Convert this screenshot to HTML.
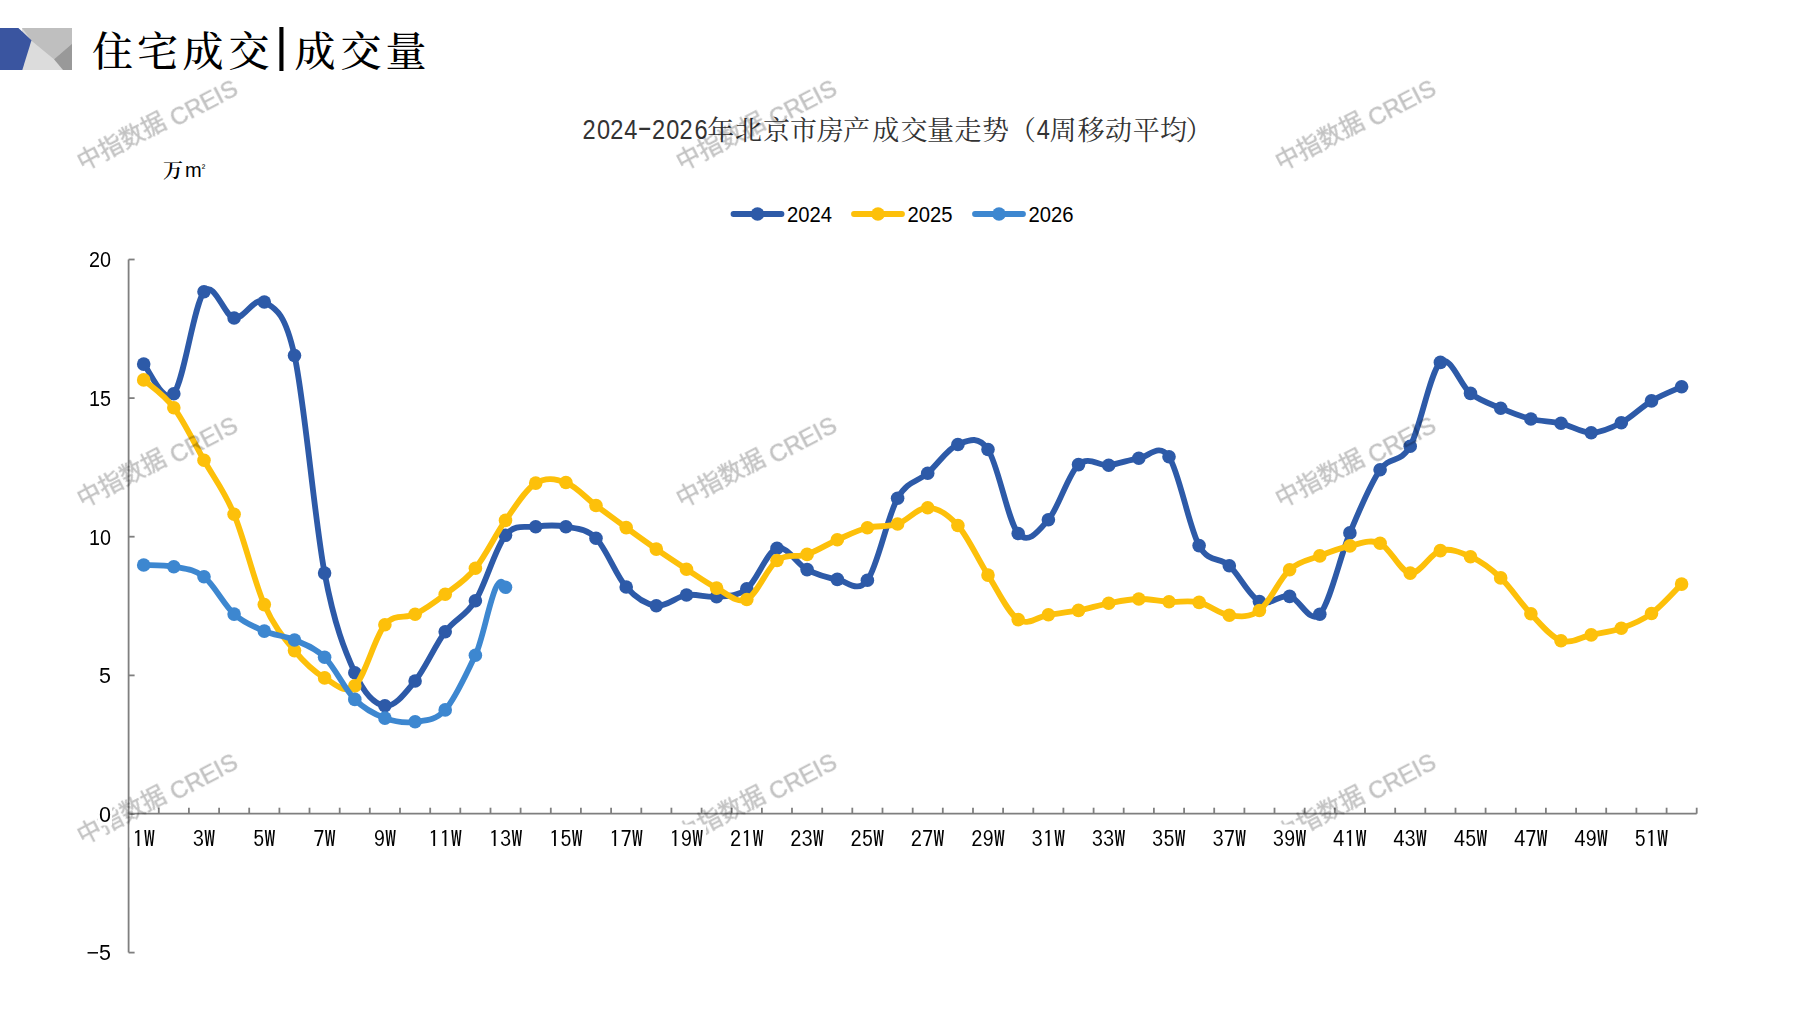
<!DOCTYPE html>
<html><head><meta charset="utf-8"><style>
html,body{margin:0;padding:0;background:#fff;}
body{width:1797px;height:1010px;overflow:hidden;position:relative;}
svg{position:absolute;left:0;top:0;}
.yl{font-family:"Liberation Sans","Noto Sans CJK SC",sans-serif;font-size:21.5px;fill:#000;}
.xl{font-family:"IPAGothic","Liberation Sans",sans-serif;font-size:22.5px;fill:#000;}
.lg{font-family:"Liberation Sans","Noto Sans CJK SC",sans-serif;font-size:21.8px;fill:#000;}
.ctd{font-family:"Liberation Sans","Noto Sans CJK SC",sans-serif;font-size:26.8px;fill:#333;}
.ctc{font-family:"Noto Serif CJK SC",serif;font-size:27px;fill:#333;}
.tt{font-family:"Noto Serif CJK SC",serif;font-size:41px;fill:#000;font-weight:500;}
.un{font-family:"Noto Serif CJK SC",serif;font-size:20px;fill:#000;font-weight:600;}
.unm{font-family:"Liberation Sans",sans-serif;font-size:20px;fill:#000;}
.wm{font-family:"Liberation Sans","Noto Sans CJK SC",sans-serif;font-size:23.7px;fill:#000;stroke:#000;stroke-width:0.5px;}
.wmg{opacity:0.24;}
.wmc{font-size:24px;}
</style></head><body>
<svg width="1797" height="1010" viewBox="0 0 1797 1010">
<polygon points="22,28 72,28 72,70 22,70" fill="#dcdcdc"/>
<polygon points="22,28 72,28 72,43.8 54,59.2 31.5,40.8" fill="#bfbfbf"/>
<polygon points="72,43.8 54,59.2 63,70 72,70" fill="#999999"/>
<polygon points="0,28 18.4,28 31.5,40.2 22.3,70 0,70" fill="#3a55a0"/>
<text x="92.0 137.0 182.5 228.5" y="65.5" class="tt">住宅成交</text>
<text transform="translate(274.73,61.46) scale(1.1,1)" style="font-family:'Liberation Sans',sans-serif;font-size:46.7px;fill:#000">|</text>
<text x="294.5 340.5 385.5" y="65.5" class="tt">成交量</text>
<text class="ctd" transform="translate(0,138.8) scale(0.88,1)" x="662.07 678.39 693.55 709.27" y="0">2024</text>
<text class="ctd" transform="translate(637.24,136.4) scale(1.66,1)" x="0" y="0">-</text>
<text class="ctd" transform="translate(0,138.8) scale(0.88,1)" x="740.93 757.14 772.30 789.09" y="0">2026</text>
<text x="707.2 735.0 763.0 790.0 816.8 843.1 872.3 900.4 927.0 954.5 982.0 1009.0" y="139.5" class="ctc">年北京市房产成交量走势（</text>
<text class="ctd" transform="translate(0,138.8) scale(0.88,1)" x="1178.13" y="0">4</text>
<text x="1049.4 1077.5 1105.1 1132.7 1160.0 1185.5" y="139.5" class="ctc">周移动平均）</text>
<text x="163" y="178" class="un">万</text><text class="unm"><tspan x="185" y="177">m</tspan><tspan x="201.8" y="172.3" style="font-size:10.5px">²</tspan></text>
<line x1="733.5" y1="214" x2="781.5" y2="214" stroke="#2D5AA8" stroke-width="5.8" stroke-linecap="round"/>
<circle cx="757.5" cy="214" r="6.8" fill="#2D5AA8"/>
<text x="787.1" y="221.7" class="lg" textLength="45" lengthAdjust="spacingAndGlyphs">2024</text>
<line x1="854.0" y1="214" x2="902.0" y2="214" stroke="#FDC00A" stroke-width="5.8" stroke-linecap="round"/>
<circle cx="878.0" cy="214" r="6.8" fill="#FDC00A"/>
<text x="907.6" y="221.7" class="lg" textLength="45" lengthAdjust="spacingAndGlyphs">2025</text>
<line x1="975.0" y1="214" x2="1023.0" y2="214" stroke="#3D87D0" stroke-width="5.8" stroke-linecap="round"/>
<circle cx="999.0" cy="214" r="6.8" fill="#3D87D0"/>
<text x="1028.6" y="221.7" class="lg" textLength="45" lengthAdjust="spacingAndGlyphs">2026</text>
<g stroke="#7f7f7f" stroke-width="1.8" fill="none">
<line x1="128.6" y1="259.5" x2="128.6" y2="952.6"/>
<line x1="128.6" y1="813.7" x2="1696.7" y2="813.7"/>
<line x1="128.6" y1="259.5" x2="134.6" y2="259.5"/>
<line x1="128.6" y1="398.1" x2="134.6" y2="398.1"/>
<line x1="128.6" y1="536.7" x2="134.6" y2="536.7"/>
<line x1="128.6" y1="675.4" x2="134.6" y2="675.4"/>
<line x1="128.6" y1="814.0" x2="134.6" y2="814.0"/>
<line x1="128.6" y1="952.6" x2="134.6" y2="952.6"/>
<line x1="158.8" y1="813.7" x2="158.8" y2="807.7"/>
<line x1="188.9" y1="813.7" x2="188.9" y2="807.7"/>
<line x1="219.1" y1="813.7" x2="219.1" y2="807.7"/>
<line x1="249.2" y1="813.7" x2="249.2" y2="807.7"/>
<line x1="279.4" y1="813.7" x2="279.4" y2="807.7"/>
<line x1="309.5" y1="813.7" x2="309.5" y2="807.7"/>
<line x1="339.7" y1="813.7" x2="339.7" y2="807.7"/>
<line x1="369.8" y1="813.7" x2="369.8" y2="807.7"/>
<line x1="400.0" y1="813.7" x2="400.0" y2="807.7"/>
<line x1="430.2" y1="813.7" x2="430.2" y2="807.7"/>
<line x1="460.3" y1="813.7" x2="460.3" y2="807.7"/>
<line x1="490.5" y1="813.7" x2="490.5" y2="807.7"/>
<line x1="520.6" y1="813.7" x2="520.6" y2="807.7"/>
<line x1="550.8" y1="813.7" x2="550.8" y2="807.7"/>
<line x1="580.9" y1="813.7" x2="580.9" y2="807.7"/>
<line x1="611.1" y1="813.7" x2="611.1" y2="807.7"/>
<line x1="641.3" y1="813.7" x2="641.3" y2="807.7"/>
<line x1="671.4" y1="813.7" x2="671.4" y2="807.7"/>
<line x1="701.6" y1="813.7" x2="701.6" y2="807.7"/>
<line x1="731.7" y1="813.7" x2="731.7" y2="807.7"/>
<line x1="761.9" y1="813.7" x2="761.9" y2="807.7"/>
<line x1="792.0" y1="813.7" x2="792.0" y2="807.7"/>
<line x1="822.2" y1="813.7" x2="822.2" y2="807.7"/>
<line x1="852.3" y1="813.7" x2="852.3" y2="807.7"/>
<line x1="882.5" y1="813.7" x2="882.5" y2="807.7"/>
<line x1="912.7" y1="813.7" x2="912.7" y2="807.7"/>
<line x1="942.8" y1="813.7" x2="942.8" y2="807.7"/>
<line x1="973.0" y1="813.7" x2="973.0" y2="807.7"/>
<line x1="1003.1" y1="813.7" x2="1003.1" y2="807.7"/>
<line x1="1033.3" y1="813.7" x2="1033.3" y2="807.7"/>
<line x1="1063.4" y1="813.7" x2="1063.4" y2="807.7"/>
<line x1="1093.6" y1="813.7" x2="1093.6" y2="807.7"/>
<line x1="1123.7" y1="813.7" x2="1123.7" y2="807.7"/>
<line x1="1153.9" y1="813.7" x2="1153.9" y2="807.7"/>
<line x1="1184.1" y1="813.7" x2="1184.1" y2="807.7"/>
<line x1="1214.2" y1="813.7" x2="1214.2" y2="807.7"/>
<line x1="1244.4" y1="813.7" x2="1244.4" y2="807.7"/>
<line x1="1274.5" y1="813.7" x2="1274.5" y2="807.7"/>
<line x1="1304.7" y1="813.7" x2="1304.7" y2="807.7"/>
<line x1="1334.8" y1="813.7" x2="1334.8" y2="807.7"/>
<line x1="1365.0" y1="813.7" x2="1365.0" y2="807.7"/>
<line x1="1395.2" y1="813.7" x2="1395.2" y2="807.7"/>
<line x1="1425.3" y1="813.7" x2="1425.3" y2="807.7"/>
<line x1="1455.5" y1="813.7" x2="1455.5" y2="807.7"/>
<line x1="1485.6" y1="813.7" x2="1485.6" y2="807.7"/>
<line x1="1515.8" y1="813.7" x2="1515.8" y2="807.7"/>
<line x1="1545.9" y1="813.7" x2="1545.9" y2="807.7"/>
<line x1="1576.1" y1="813.7" x2="1576.1" y2="807.7"/>
<line x1="1606.2" y1="813.7" x2="1606.2" y2="807.7"/>
<line x1="1636.4" y1="813.7" x2="1636.4" y2="807.7"/>
<line x1="1666.6" y1="813.7" x2="1666.6" y2="807.7"/>
<line x1="1696.7" y1="813.7" x2="1696.7" y2="807.7"/>
</g>
<path d="M143.7,364.1 C148.7,369.0 163.8,405.8 173.8,393.7 C183.9,381.6 193.9,304.3 204.0,291.7 C214.0,279.1 224.1,316.3 234.1,318.0 C244.2,319.7 254.3,295.8 264.3,302.0 C274.4,308.2 284.4,310.3 294.5,355.5 C304.5,400.7 314.6,520.2 324.6,573.1 C334.7,626.0 344.7,650.6 354.8,672.7 C364.8,694.8 374.9,704.3 384.9,705.7 C395.0,707.1 405.0,693.3 415.1,681.0 C425.1,668.7 435.2,645.2 445.2,631.8 C455.3,618.4 465.3,616.9 475.4,600.8 C485.4,584.7 495.5,547.6 505.5,535.3 C515.6,522.9 525.7,528.1 535.7,526.7 C545.8,525.3 555.8,524.8 565.9,526.7 C575.9,528.6 586.0,528.2 596.0,538.2 C606.1,548.2 616.1,575.8 626.2,587.0 C636.2,598.2 646.3,604.4 656.3,605.7 C666.4,607.0 676.4,596.5 686.5,595.0 C696.5,593.5 706.6,597.7 716.6,596.7 C726.7,595.7 736.7,597.0 746.8,588.9 C756.9,580.8 766.9,551.5 777.0,548.3 C787.0,545.1 797.1,564.4 807.1,569.6 C817.2,574.8 827.2,577.6 837.3,579.4 C847.3,581.2 857.4,593.8 867.4,580.3 C877.5,566.8 887.5,516.0 897.6,498.2 C907.6,480.4 917.7,482.1 927.7,473.2 C937.8,464.2 947.8,448.4 957.9,444.5 C967.9,440.6 978.0,434.7 988.0,449.5 C998.1,464.3 1008.1,521.8 1018.2,533.5 C1028.3,545.2 1038.3,531.2 1048.4,519.7 C1058.4,508.2 1068.5,473.7 1078.5,464.6 C1088.6,455.5 1098.6,466.2 1108.7,465.2 C1118.7,464.1 1128.8,459.7 1138.8,458.3 C1148.9,456.9 1158.9,442.2 1169.0,456.8 C1179.0,471.4 1189.1,527.5 1199.1,545.6 C1209.2,563.8 1219.2,556.4 1229.3,565.7 C1239.3,575.0 1249.4,596.4 1259.4,601.5 C1269.5,606.6 1279.6,594.3 1289.6,596.4 C1299.7,598.5 1309.7,624.8 1319.8,614.2 C1329.8,603.6 1339.9,557.0 1349.9,532.9 C1360.0,508.8 1370.0,484.2 1380.1,469.8 C1390.1,455.4 1400.2,464.1 1410.2,446.2 C1420.3,428.3 1430.3,371.2 1440.4,362.4 C1450.4,353.6 1460.5,385.8 1470.5,393.4 C1480.6,401.0 1490.6,403.9 1500.7,408.2 C1510.7,412.5 1520.8,416.5 1530.9,419.0 C1540.9,421.5 1551.0,421.0 1561.0,423.3 C1571.1,425.6 1581.1,432.8 1591.2,432.7 C1601.2,432.6 1611.3,428.0 1621.3,422.7 C1631.4,417.4 1641.4,406.9 1651.5,400.9 C1661.5,394.9 1676.6,389.1 1681.6,386.8" fill="none" stroke="#2D5AA8" stroke-width="5.8" stroke-linejoin="round" stroke-linecap="round"/>
<g fill="#2D5AA8"><circle cx="143.7" cy="364.1" r="6.8"/><circle cx="173.8" cy="393.7" r="6.8"/><circle cx="204.0" cy="291.7" r="6.8"/><circle cx="234.1" cy="318.0" r="6.8"/><circle cx="264.3" cy="302.0" r="6.8"/><circle cx="294.5" cy="355.5" r="6.8"/><circle cx="324.6" cy="573.1" r="6.8"/><circle cx="354.8" cy="672.7" r="6.8"/><circle cx="384.9" cy="705.7" r="6.8"/><circle cx="415.1" cy="681.0" r="6.8"/><circle cx="445.2" cy="631.8" r="6.8"/><circle cx="475.4" cy="600.8" r="6.8"/><circle cx="505.5" cy="535.3" r="6.8"/><circle cx="535.7" cy="526.7" r="6.8"/><circle cx="565.9" cy="526.7" r="6.8"/><circle cx="596.0" cy="538.2" r="6.8"/><circle cx="626.2" cy="587.0" r="6.8"/><circle cx="656.3" cy="605.7" r="6.8"/><circle cx="686.5" cy="595.0" r="6.8"/><circle cx="716.6" cy="596.7" r="6.8"/><circle cx="746.8" cy="588.9" r="6.8"/><circle cx="777.0" cy="548.3" r="6.8"/><circle cx="807.1" cy="569.6" r="6.8"/><circle cx="837.3" cy="579.4" r="6.8"/><circle cx="867.4" cy="580.3" r="6.8"/><circle cx="897.6" cy="498.2" r="6.8"/><circle cx="927.7" cy="473.2" r="6.8"/><circle cx="957.9" cy="444.5" r="6.8"/><circle cx="988.0" cy="449.5" r="6.8"/><circle cx="1018.2" cy="533.5" r="6.8"/><circle cx="1048.4" cy="519.7" r="6.8"/><circle cx="1078.5" cy="464.6" r="6.8"/><circle cx="1108.7" cy="465.2" r="6.8"/><circle cx="1138.8" cy="458.3" r="6.8"/><circle cx="1169.0" cy="456.8" r="6.8"/><circle cx="1199.1" cy="545.6" r="6.8"/><circle cx="1229.3" cy="565.7" r="6.8"/><circle cx="1259.4" cy="601.5" r="6.8"/><circle cx="1289.6" cy="596.4" r="6.8"/><circle cx="1319.8" cy="614.2" r="6.8"/><circle cx="1349.9" cy="532.9" r="6.8"/><circle cx="1380.1" cy="469.8" r="6.8"/><circle cx="1410.2" cy="446.2" r="6.8"/><circle cx="1440.4" cy="362.4" r="6.8"/><circle cx="1470.5" cy="393.4" r="6.8"/><circle cx="1500.7" cy="408.2" r="6.8"/><circle cx="1530.9" cy="419.0" r="6.8"/><circle cx="1561.0" cy="423.3" r="6.8"/><circle cx="1591.2" cy="432.7" r="6.8"/><circle cx="1621.3" cy="422.7" r="6.8"/><circle cx="1651.5" cy="400.9" r="6.8"/><circle cx="1681.6" cy="386.8" r="6.8"/></g>
<path d="M143.7,379.9 C148.7,384.5 163.8,394.3 173.8,407.7 C183.9,421.1 193.9,442.5 204.0,460.3 C214.0,478.1 224.1,490.2 234.1,514.3 C244.2,538.3 254.3,581.9 264.3,604.6 C274.4,627.3 284.4,638.4 294.5,650.6 C304.5,662.8 314.6,672.0 324.6,677.9 C334.7,683.8 344.7,694.8 354.8,685.9 C364.8,677.0 374.9,636.7 384.9,624.7 C395.0,612.8 405.0,619.3 415.1,614.2 C425.1,609.1 435.2,601.9 445.2,594.2 C455.3,586.6 465.3,580.6 475.4,568.3 C485.4,556.0 495.5,534.6 505.5,520.4 C515.6,506.2 525.7,489.4 535.7,483.1 C545.8,476.8 555.8,478.8 565.9,482.5 C575.9,486.2 586.0,498.0 596.0,505.5 C606.1,513.0 616.1,520.3 626.2,527.6 C636.2,534.9 646.3,542.2 656.3,549.1 C666.4,556.0 676.4,562.7 686.5,569.2 C696.5,575.7 706.6,583.1 716.6,588.1 C726.7,593.1 736.7,604.1 746.8,599.5 C756.9,594.9 766.9,568.0 777.0,560.5 C787.0,553.0 797.1,557.9 807.1,554.4 C817.2,550.9 827.2,544.2 837.3,539.8 C847.3,535.4 857.4,530.4 867.4,527.8 C877.5,525.2 887.5,527.4 897.6,524.0 C907.6,520.6 917.7,507.4 927.7,507.7 C937.8,507.9 947.8,514.3 957.9,525.5 C967.9,536.7 978.0,559.4 988.0,575.1 C998.1,590.8 1008.1,613.0 1018.2,619.6 C1028.3,626.2 1038.3,616.3 1048.4,614.8 C1058.4,613.3 1068.5,612.3 1078.5,610.4 C1088.6,608.5 1098.6,605.2 1108.7,603.3 C1118.7,601.4 1128.8,599.2 1138.8,599.0 C1148.9,598.8 1158.9,601.2 1169.0,601.8 C1179.0,602.4 1189.1,600.1 1199.1,602.4 C1209.2,604.6 1219.2,613.9 1229.3,615.3 C1239.3,616.6 1249.4,618.1 1259.4,610.5 C1269.5,602.9 1279.6,578.8 1289.6,569.7 C1299.7,560.6 1309.7,559.9 1319.8,555.9 C1329.8,551.9 1339.9,548.0 1349.9,545.9 C1360.0,543.8 1370.0,538.8 1380.1,543.3 C1390.1,547.8 1400.2,571.9 1410.2,573.1 C1420.3,574.3 1430.3,553.3 1440.4,550.6 C1450.4,547.9 1460.5,552.2 1470.5,556.7 C1480.6,561.2 1490.6,568.4 1500.7,577.9 C1510.7,587.4 1520.8,603.3 1530.9,613.8 C1540.9,624.3 1551.0,637.2 1561.0,640.7 C1571.1,644.2 1581.1,637.0 1591.2,634.9 C1601.2,632.8 1611.3,631.9 1621.3,628.3 C1631.4,624.7 1641.4,620.9 1651.5,613.5 C1661.5,606.1 1676.6,589.0 1681.6,584.1" fill="none" stroke="#FDC00A" stroke-width="5.8" stroke-linejoin="round" stroke-linecap="round"/>
<g fill="#FDC00A"><circle cx="143.7" cy="379.9" r="6.8"/><circle cx="173.8" cy="407.7" r="6.8"/><circle cx="204.0" cy="460.3" r="6.8"/><circle cx="234.1" cy="514.3" r="6.8"/><circle cx="264.3" cy="604.6" r="6.8"/><circle cx="294.5" cy="650.6" r="6.8"/><circle cx="324.6" cy="677.9" r="6.8"/><circle cx="354.8" cy="685.9" r="6.8"/><circle cx="384.9" cy="624.7" r="6.8"/><circle cx="415.1" cy="614.2" r="6.8"/><circle cx="445.2" cy="594.2" r="6.8"/><circle cx="475.4" cy="568.3" r="6.8"/><circle cx="505.5" cy="520.4" r="6.8"/><circle cx="535.7" cy="483.1" r="6.8"/><circle cx="565.9" cy="482.5" r="6.8"/><circle cx="596.0" cy="505.5" r="6.8"/><circle cx="626.2" cy="527.6" r="6.8"/><circle cx="656.3" cy="549.1" r="6.8"/><circle cx="686.5" cy="569.2" r="6.8"/><circle cx="716.6" cy="588.1" r="6.8"/><circle cx="746.8" cy="599.5" r="6.8"/><circle cx="777.0" cy="560.5" r="6.8"/><circle cx="807.1" cy="554.4" r="6.8"/><circle cx="837.3" cy="539.8" r="6.8"/><circle cx="867.4" cy="527.8" r="6.8"/><circle cx="897.6" cy="524.0" r="6.8"/><circle cx="927.7" cy="507.7" r="6.8"/><circle cx="957.9" cy="525.5" r="6.8"/><circle cx="988.0" cy="575.1" r="6.8"/><circle cx="1018.2" cy="619.6" r="6.8"/><circle cx="1048.4" cy="614.8" r="6.8"/><circle cx="1078.5" cy="610.4" r="6.8"/><circle cx="1108.7" cy="603.3" r="6.8"/><circle cx="1138.8" cy="599.0" r="6.8"/><circle cx="1169.0" cy="601.8" r="6.8"/><circle cx="1199.1" cy="602.4" r="6.8"/><circle cx="1229.3" cy="615.3" r="6.8"/><circle cx="1259.4" cy="610.5" r="6.8"/><circle cx="1289.6" cy="569.7" r="6.8"/><circle cx="1319.8" cy="555.9" r="6.8"/><circle cx="1349.9" cy="545.9" r="6.8"/><circle cx="1380.1" cy="543.3" r="6.8"/><circle cx="1410.2" cy="573.1" r="6.8"/><circle cx="1440.4" cy="550.6" r="6.8"/><circle cx="1470.5" cy="556.7" r="6.8"/><circle cx="1500.7" cy="577.9" r="6.8"/><circle cx="1530.9" cy="613.8" r="6.8"/><circle cx="1561.0" cy="640.7" r="6.8"/><circle cx="1591.2" cy="634.9" r="6.8"/><circle cx="1621.3" cy="628.3" r="6.8"/><circle cx="1651.5" cy="613.5" r="6.8"/><circle cx="1681.6" cy="584.1" r="6.8"/></g>
<path d="M143.7,565.0 C148.7,565.3 163.8,564.7 173.8,566.7 C183.9,568.7 193.9,568.9 204.0,576.8 C214.0,584.7 224.1,605.0 234.1,614.1 C244.2,623.2 254.3,626.8 264.3,631.1 C274.4,635.4 284.4,635.6 294.5,640.0 C304.5,644.4 314.6,647.3 324.6,657.2 C334.7,667.1 344.7,689.2 354.8,699.4 C364.8,709.5 374.9,714.4 384.9,718.1 C395.0,721.8 405.0,723.2 415.1,721.8 C425.1,720.4 435.2,721.0 445.2,709.9 C455.3,698.8 465.3,675.7 475.4,655.3 C485.4,634.9 495.5,560.9 505.5,587.3" fill="none" stroke="#3D87D0" stroke-width="5.8" stroke-linejoin="round" stroke-linecap="round"/>
<g fill="#3D87D0"><circle cx="143.7" cy="565.0" r="6.8"/><circle cx="173.8" cy="566.7" r="6.8"/><circle cx="204.0" cy="576.8" r="6.8"/><circle cx="234.1" cy="614.1" r="6.8"/><circle cx="264.3" cy="631.1" r="6.8"/><circle cx="294.5" cy="640.0" r="6.8"/><circle cx="324.6" cy="657.2" r="6.8"/><circle cx="354.8" cy="699.4" r="6.8"/><circle cx="384.9" cy="718.1" r="6.8"/><circle cx="415.1" cy="721.8" r="6.8"/><circle cx="445.2" cy="709.9" r="6.8"/><circle cx="475.4" cy="655.3" r="6.8"/><circle cx="505.5" cy="587.3" r="6.8"/></g>
<g class="wmg"><text class="wm" transform="translate(84.4,174.5) rotate(-27.5)"><tspan class="wmc" dy="-4">中指数据</tspan><tspan dy="4"> CREIS</tspan></text>
<text class="wm" transform="translate(84.4,511.4) rotate(-27.5)"><tspan class="wmc" dy="-4">中指数据</tspan><tspan dy="4"> CREIS</tspan></text>
<text class="wm" transform="translate(84.4,848.2) rotate(-27.5)"><tspan class="wmc" dy="-4">中指数据</tspan><tspan dy="4"> CREIS</tspan></text>
<text class="wm" transform="translate(683.5,174.5) rotate(-27.5)"><tspan class="wmc" dy="-4">中指数据</tspan><tspan dy="4"> CREIS</tspan></text>
<text class="wm" transform="translate(683.5,511.4) rotate(-27.5)"><tspan class="wmc" dy="-4">中指数据</tspan><tspan dy="4"> CREIS</tspan></text>
<text class="wm" transform="translate(683.5,848.2) rotate(-27.5)"><tspan class="wmc" dy="-4">中指数据</tspan><tspan dy="4"> CREIS</tspan></text>
<text class="wm" transform="translate(1282.6,174.5) rotate(-27.5)"><tspan class="wmc" dy="-4">中指数据</tspan><tspan dy="4"> CREIS</tspan></text>
<text class="wm" transform="translate(1282.6,511.4) rotate(-27.5)"><tspan class="wmc" dy="-4">中指数据</tspan><tspan dy="4"> CREIS</tspan></text>
<text class="wm" transform="translate(1282.6,848.2) rotate(-27.5)"><tspan class="wmc" dy="-4">中指数据</tspan><tspan dy="4"> CREIS</tspan></text></g>
<rect x="88.0" y="248.0" width="24.0" height="23" fill="#fff"/>
<text x="111" y="267.3" class="yl" text-anchor="end" textLength="22" lengthAdjust="spacingAndGlyphs">20</text>
<rect x="88.0" y="386.6" width="24.0" height="23" fill="#fff"/>
<text x="111" y="405.9" class="yl" text-anchor="end" textLength="22" lengthAdjust="spacingAndGlyphs">15</text>
<rect x="88.0" y="525.2" width="24.0" height="23" fill="#fff"/>
<text x="111" y="544.5" class="yl" text-anchor="end" textLength="22" lengthAdjust="spacingAndGlyphs">10</text>
<rect x="98.0" y="663.9" width="14.0" height="23" fill="#fff"/>
<text x="111" y="683.2" class="yl" text-anchor="end">5</text>
<rect x="98.0" y="802.5" width="14.0" height="23" fill="#fff"/>
<text x="111" y="821.8" class="yl" text-anchor="end">0</text>
<rect x="88.0" y="941.1" width="24.0" height="23" fill="#fff"/>
<text x="111" y="960.4" class="yl" text-anchor="end">−5</text>
<rect x="129.7" y="824.5" width="28.0" height="23" fill="#fff"/>
<text class="xl" x="143.68" y="847.4" text-anchor="middle">1W</text>
<rect x="190.0" y="824.5" width="28.0" height="23" fill="#fff"/>
<text class="xl" x="203.99" y="847.4" text-anchor="middle">3W</text>
<rect x="250.3" y="824.5" width="28.0" height="23" fill="#fff"/>
<text class="xl" x="264.30" y="847.4" text-anchor="middle">5W</text>
<rect x="310.6" y="824.5" width="28.0" height="23" fill="#fff"/>
<text class="xl" x="324.61" y="847.4" text-anchor="middle">7W</text>
<rect x="370.9" y="824.5" width="28.0" height="23" fill="#fff"/>
<text class="xl" x="384.93" y="847.4" text-anchor="middle">9W</text>
<rect x="425.7" y="824.5" width="39.0" height="23" fill="#fff"/>
<text class="xl" x="445.24" y="847.4" text-anchor="middle">11W</text>
<rect x="486.0" y="824.5" width="39.0" height="23" fill="#fff"/>
<text class="xl" x="505.55" y="847.4" text-anchor="middle">13W</text>
<rect x="546.4" y="824.5" width="39.0" height="23" fill="#fff"/>
<text class="xl" x="565.86" y="847.4" text-anchor="middle">15W</text>
<rect x="606.7" y="824.5" width="39.0" height="23" fill="#fff"/>
<text class="xl" x="626.17" y="847.4" text-anchor="middle">17W</text>
<rect x="667.0" y="824.5" width="39.0" height="23" fill="#fff"/>
<text class="xl" x="686.49" y="847.4" text-anchor="middle">19W</text>
<rect x="727.3" y="824.5" width="39.0" height="23" fill="#fff"/>
<text class="xl" x="746.80" y="847.4" text-anchor="middle">21W</text>
<rect x="787.6" y="824.5" width="39.0" height="23" fill="#fff"/>
<text class="xl" x="807.11" y="847.4" text-anchor="middle">23W</text>
<rect x="847.9" y="824.5" width="39.0" height="23" fill="#fff"/>
<text class="xl" x="867.42" y="847.4" text-anchor="middle">25W</text>
<rect x="908.2" y="824.5" width="39.0" height="23" fill="#fff"/>
<text class="xl" x="927.73" y="847.4" text-anchor="middle">27W</text>
<rect x="968.5" y="824.5" width="39.0" height="23" fill="#fff"/>
<text class="xl" x="988.05" y="847.4" text-anchor="middle">29W</text>
<rect x="1028.9" y="824.5" width="39.0" height="23" fill="#fff"/>
<text class="xl" x="1048.36" y="847.4" text-anchor="middle">31W</text>
<rect x="1089.2" y="824.5" width="39.0" height="23" fill="#fff"/>
<text class="xl" x="1108.67" y="847.4" text-anchor="middle">33W</text>
<rect x="1149.5" y="824.5" width="39.0" height="23" fill="#fff"/>
<text class="xl" x="1168.98" y="847.4" text-anchor="middle">35W</text>
<rect x="1209.8" y="824.5" width="39.0" height="23" fill="#fff"/>
<text class="xl" x="1229.29" y="847.4" text-anchor="middle">37W</text>
<rect x="1270.1" y="824.5" width="39.0" height="23" fill="#fff"/>
<text class="xl" x="1289.61" y="847.4" text-anchor="middle">39W</text>
<rect x="1330.4" y="824.5" width="39.0" height="23" fill="#fff"/>
<text class="xl" x="1349.92" y="847.4" text-anchor="middle">41W</text>
<rect x="1390.7" y="824.5" width="39.0" height="23" fill="#fff"/>
<text class="xl" x="1410.23" y="847.4" text-anchor="middle">43W</text>
<rect x="1451.0" y="824.5" width="39.0" height="23" fill="#fff"/>
<text class="xl" x="1470.54" y="847.4" text-anchor="middle">45W</text>
<rect x="1511.4" y="824.5" width="39.0" height="23" fill="#fff"/>
<text class="xl" x="1530.85" y="847.4" text-anchor="middle">47W</text>
<rect x="1571.7" y="824.5" width="39.0" height="23" fill="#fff"/>
<text class="xl" x="1591.17" y="847.4" text-anchor="middle">49W</text>
<rect x="1632.0" y="824.5" width="39.0" height="23" fill="#fff"/>
<text class="xl" x="1651.48" y="847.4" text-anchor="middle">51W</text>
</svg>
</body></html>
